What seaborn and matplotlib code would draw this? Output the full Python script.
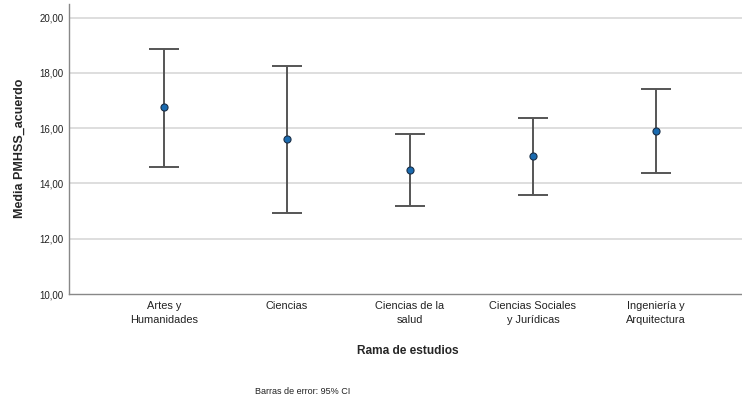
import matplotlib
matplotlib.use("Agg")
import matplotlib.pyplot as plt
import seaborn as sns
import pandas as pd
import numpy as np

# Mean PMHSS agreement score by field of study, with 95% CI
categories = ["Artes y\nHumanidades", "Ciencias", "Ciencias de la\nsalud",
              "Ciencias Sociales\ny Jurídicas", "Ingeniería y\nArquitectura"]
means = [16.75, 15.59, 14.50, 14.98, 15.89]
ci_low = [14.59, 12.93, 13.18, 13.57, 14.39]
ci_high = [18.88, 18.25, 15.80, 16.38, 17.41]
y_ticks = [10, 12, 14, 16, 18, 20]

df = pd.DataFrame({"rama": categories, "media": means,
                   "lo": ci_low, "hi": ci_high})

sns.set_style("white")
plt.rcParams["font.family"] = ["Liberation Sans", "DejaVu Sans"]

fig = plt.figure(figsize=(7.42, 4.03), dpi=100)
ax = fig.add_axes([69 / 742, 109 / 403, 673 / 742, 290 / 403])

# horizontal grid
for t in y_ticks[1:]:
    ax.axhline(t, color="#d4d4d4", lw=1.1, zorder=0)

# confidence interval bars
x = np.arange(len(df))
ax.errorbar(x, df["media"],
            yerr=[df["media"] - df["lo"], df["hi"] - df["media"]],
            fmt="none", ecolor="#555555", elinewidth=1.4,
            capsize=10.8, capthick=1.4, zorder=2)

# means
sns.scatterplot(data=df, x="rama", y="media", ax=ax, s=26,
                color="#1a6bb0", edgecolor="#1b2f48", linewidth=0.8,
                zorder=3, legend=False)

ax.set_xlim(-0.772, 4.70)
ax.set_ylim(10, 20.49)
ax.set_yticks(y_ticks)
ax.set_yticklabels([f"{t:.2f}".replace(".", ",") for t in y_ticks],
                   fontsize=7, color="#222222")
ax.set_xticks(x)
ax.set_xticklabels(categories, fontsize=7.9, color="#222222",
                   linespacing=1.45)
ax.tick_params(axis="both", length=0, pad=4)
ax.tick_params(axis="x", pad=5)

for side in ["top", "right"]:
    ax.spines[side].set_visible(False)
for side in ["left", "bottom"]:
    ax.spines[side].set_color("#888888")
    ax.spines[side].set_linewidth(1.0)

ax.set_xlabel("")
ax.set_ylabel("")
fig.text(20 / 742, 1 - 148 / 403, "Media PMHSS_acuerdo", rotation=90,
         ha="center", va="center", fontsize=9, fontweight="bold")
fig.text(408 / 742, 1 - 351 / 403, "Rama de estudios",
         ha="center", va="center", fontsize=8.6, fontweight="bold")
fig.text(303 / 742, 1 - 392 / 403, "Barras de error: 95% CI",
         ha="center", va="center", fontsize=6.5, color="#222222")

fig.savefig("out.png", dpi=100)
